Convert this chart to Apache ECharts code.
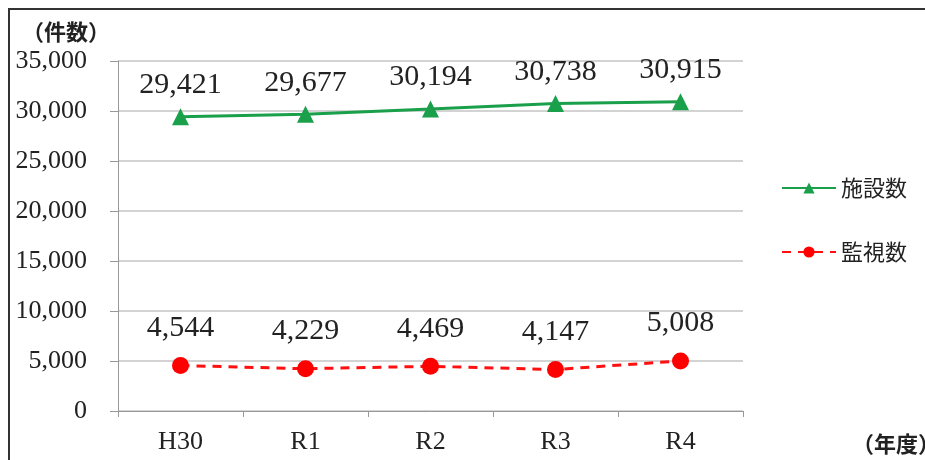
<!DOCTYPE html>
<html><head><meta charset="utf-8">
<script src="https://cdn.jsdelivr.net/npm/echarts@6/dist/echarts.min.js"></script>
<style>html,body{margin:0;padding:0;background:#fff}#c{width:925px;height:460px}</style>
</head><body><div id="c"></div>
<script>
const categories = ['H30', 'R1', 'R2', 'R3', 'R4'];
const facilities = [29421, 29677, 30194, 30738, 30915];
const monitored = [4544, 4229, 4469, 4147, 5008];
const seriesNames = ['施設数', '監視数'];
const yTicks = { min: 0, max: 35000, interval: 5000 };

const serif = "'Liberation Serif','Noto Sans CJK JP',serif";
const cjk = "'Noto Sans CJK JP',serif";
const chart = echarts.init(document.getElementById('c'));
const fmt = v => v.toLocaleString('en-US');
chart.setOption({
  animation: false,
  backgroundColor: '#fff',
  grid: { left: 118, right: 182, top: 61, bottom: 49 },
  legend: {
    orient: 'vertical', left: 776, top: 172, itemGap: 42,
    itemWidth: 54, itemHeight: 14,
    textStyle: { fontSize: 22, color: '#222', fontFamily: cjk },
    data: seriesNames
  },
  xAxis: {
    type: 'category', data: categories, boundaryGap: true,
    axisLine: { lineStyle: { color: '#999', width: 1 } },
    axisTick: { show: true, length: 6, lineStyle: { color: '#999' } },
    axisLabel: { fontSize: 26, color: '#222', fontFamily: serif, margin: 18 }
  },
  yAxis: {
    type: 'value', min: yTicks.min, max: yTicks.max, interval: yTicks.interval,
    axisLine: { show: true, lineStyle: { color: '#999', width: 1 } },
    axisTick: { show: true, length: 8, lineStyle: { color: '#999' } },
    splitLine: { lineStyle: { color: '#c4c4c4', width: 1.5 } },
    axisLabel: { fontSize: 26, color: '#222', fontFamily: serif, margin: 31, formatter: v => fmt(v) }
  },
  series: [
    {
      name: seriesNames[0], type: 'line', data: facilities,
      symbol: 'triangle', symbolSize: 17,
      lineStyle: { color: '#1aa04a', width: 3 },
      itemStyle: { color: '#1aa04a' },
      label: { show: true, position: 'top', distance: 8, fontSize: 30, color: '#222', fontFamily: serif, formatter: p => fmt(p.value) }
    },
    {
      name: seriesNames[1], type: 'line', data: monitored,
      symbol: 'circle', symbolSize: 17,
      lineStyle: { color: '#ff1010', width: 3, type: [9, 7] },
      itemStyle: { color: '#ff0000' },
      label: { show: true, position: 'top', distance: 14, fontSize: 30, color: '#222', fontFamily: serif, formatter: p => fmt(p.value) }
    }
  ],
  graphic: [
    { type: 'line', shape: { x1: 8, y1: 9, x2: 925, y2: 9 }, style: { stroke: '#333', lineWidth: 2 } },
    { type: 'line', shape: { x1: 9, y1: 9, x2: 9, y2: 460 }, style: { stroke: '#333', lineWidth: 2 } },
    { type: 'text', left: 22, top: 21, style: { text: '（件数）', fontSize: 22, fontWeight: 'bold', fill: '#222', fontFamily: cjk } },
    { type: 'text', left: 852, top: 433, style: { text: '（年度）', fontSize: 22, fontWeight: 'bold', fill: '#222', fontFamily: cjk } }
  ]
});
</script></body></html>
